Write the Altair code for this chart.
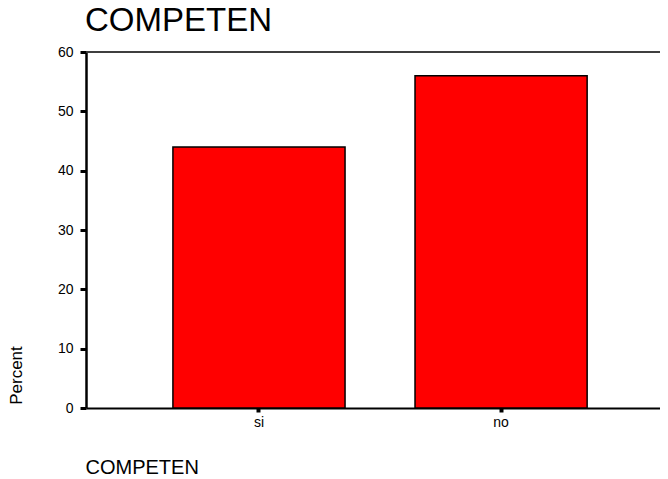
import altair as alt
import pandas as pd

categories = ["si", "no"]
percents = [44.0, 56.0]
y_ticks = [0, 10, 20, 30, 40, 50, 60]
chart_title = "COMPETEN"

df = pd.DataFrame({"COMPETEN": categories, "Percent": percents})

W, H = 574, 356
FONT = "Liberation Sans"

x_enc = alt.X(
    "COMPETEN:N",
    sort=categories,
    scale=alt.Scale(paddingInner=0.289, paddingOuter=0.33, align=0.544),
    axis=alt.Axis(
        title="COMPETEN", labelAngle=0, titleAnchor="start", titleAlign="left",
        titleX=-1, titleY=65, titleBaseline="alphabetic", titleFontSize=20,
        titleFontWeight="normal", titleFont=FONT, labelFont=FONT, labelFontSize=14,
        tickSize=4, tickWidth=4, labelPadding=3, domainWidth=2,
        domainColor="black", tickColor="black", labelColor="black", titleColor="black",
    ),
)
y_enc = alt.Y(
    "Percent:Q",
    scale=alt.Scale(domain=[0, 60], nice=False),
    axis=alt.Axis(
        values=y_ticks, title="Percent", grid=False, titleFont=FONT, labelFont=FONT,
        labelFontSize=14, labelPadding=7, tickSize=6, tickWidth=3, domainWidth=2.5,
        domainColor="black", tickColor="black", labelColor="black", titleColor="black",
        titleFontSize=17, titleFontWeight="normal", titleX=-61, titleY=323,
        titleAlign="center", titleAngle=-90,
    ),
)

rule = alt.Chart(df).mark_rule(color="#333333", strokeWidth=1.5).encode(y=alt.datum(60))
bars = alt.Chart(df).mark_bar(color="#ff0000", stroke="black", strokeWidth=1.5).encode(x=x_enc, y=y_enc)
title_text = alt.Chart(pd.DataFrame({"t": [chart_title]})).mark_text(
    font=FONT, fontSize=33, align="left", baseline="alphabetic", color="black"
).encode(text="t:N", x=alt.value(-1), y=alt.value(-21))

chart = alt.layer(rule, bars, title_text).properties(
    width=W,
    height=H,
    autosize=alt.AutoSizeParams(type="none"),
    padding={"left": 78, "top": 44, "right": 0, "bottom": 70},
).configure_view(stroke=None)

chart.save("out.html", embed_options={"renderer": "svg", "actions": False})
